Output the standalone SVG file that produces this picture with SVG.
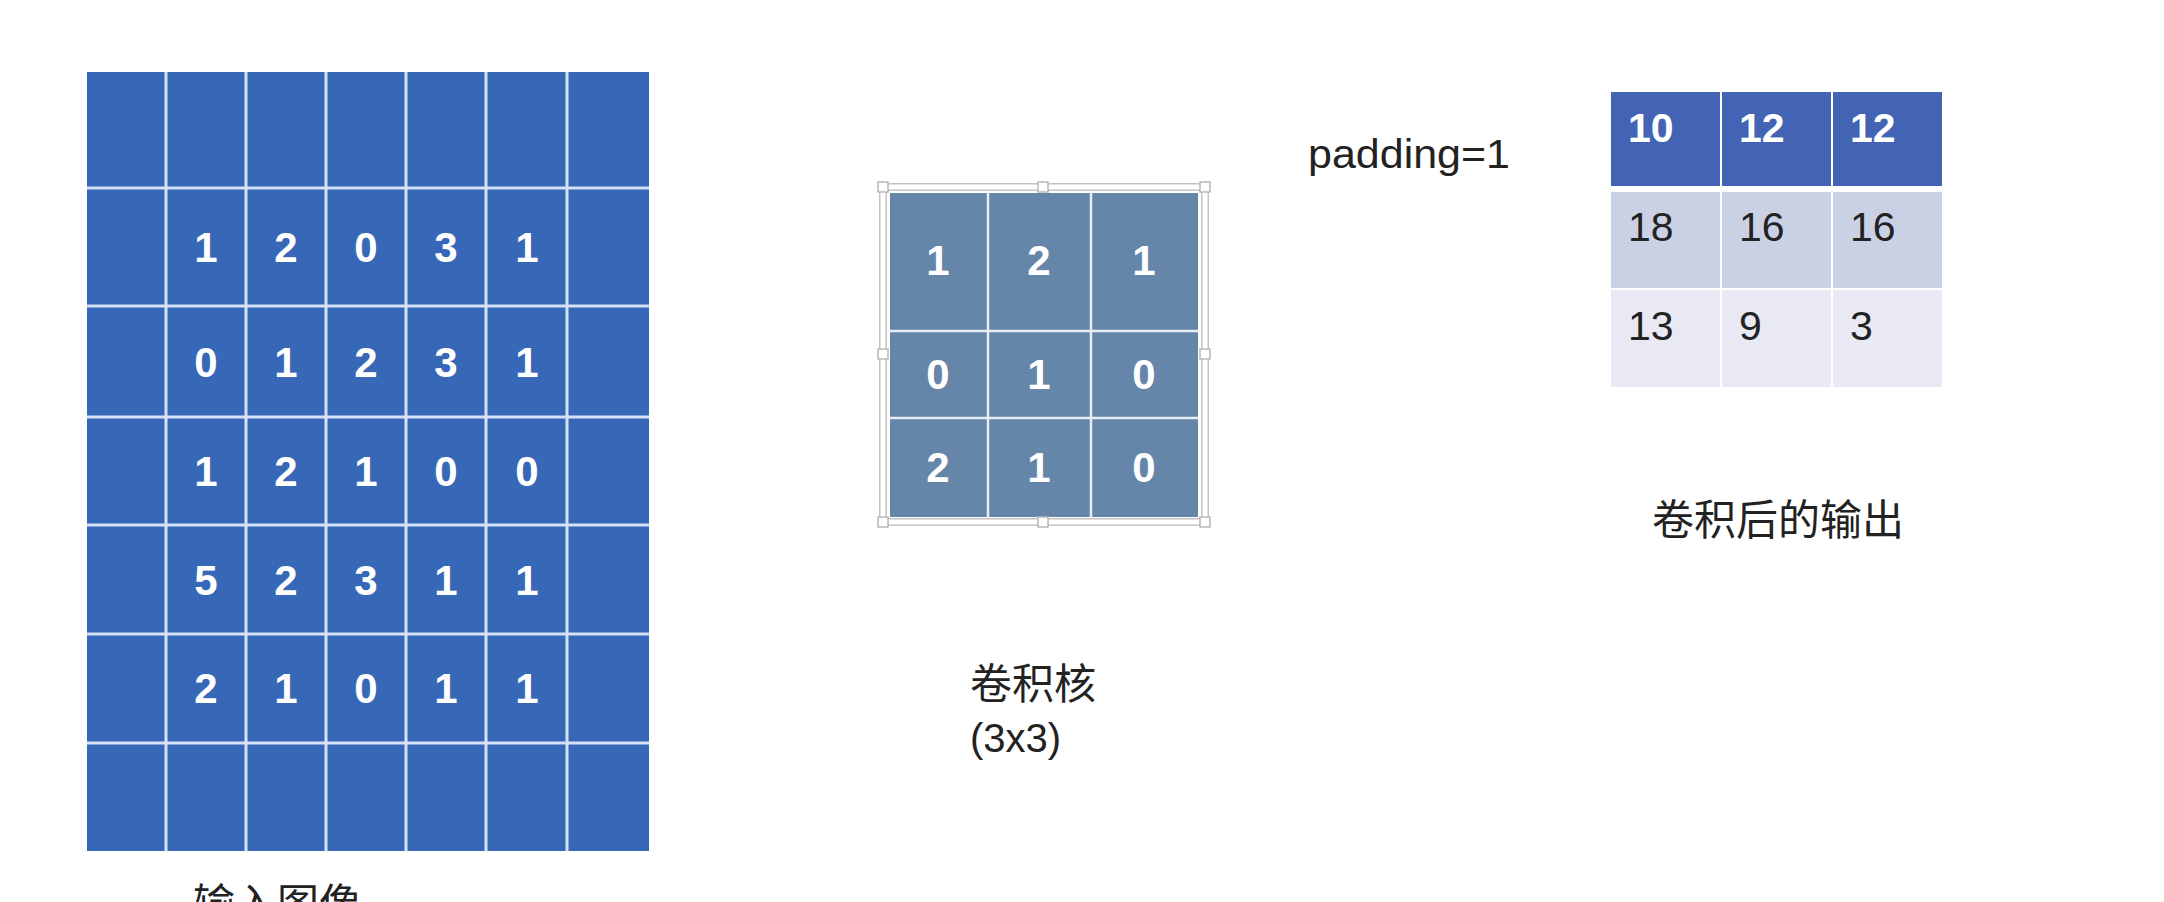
<svg xmlns="http://www.w3.org/2000/svg" width="2164" height="902" viewBox="0 0 2164 902">
<style>
.bg{fill:#ffffff}
.in{fill:#3768b8}
.gl{stroke:#d6e2f4;stroke-width:3;fill:none}
.kc{fill:#6686a9}
.kl{stroke:#e4ecf5;stroke-width:2.5;fill:none}
.num{font-family:"Liberation Sans",Arial,sans-serif;font-weight:bold;font-size:42px;fill:#ffffff;text-anchor:middle}
.onum{font-family:"Liberation Sans",Arial,sans-serif;font-size:41px;fill:#222222}
.ohead{font-family:"Liberation Sans",Arial,sans-serif;font-weight:bold;font-size:41px;fill:#ffffff}
.cjk{font-family:"Liberation Sans","Noto Sans CJK SC",sans-serif;font-size:42px;fill:#222222}
.lat{font-family:"Liberation Sans",Arial,sans-serif;font-size:40px;fill:#222222}
.h{fill:#ffffff;stroke:#b8b8b8;stroke-width:1.5}
</style>
<rect class="bg" x="0" y="0" width="2164" height="902"/>

<g id="input-image">
  <rect class="in" x="87" y="72" width="562" height="779"/>
  <path class="gl" d="M166 72V851M246 72V851M326 72V851M406 72V851M486 72V851M567 72V851M87 188H649M87 306H649M87 417H649M87 525H649M87 634H649M87 743H649"/>
  <g class="num">
    <text x="206" y="262">1</text><text x="286" y="262">2</text><text x="366" y="262">0</text><text x="446" y="262">3</text><text x="527" y="262">1</text>
    <text x="206" y="377">0</text><text x="286" y="377">1</text><text x="366" y="377">2</text><text x="446" y="377">3</text><text x="527" y="377">1</text>
    <text x="206" y="486">1</text><text x="286" y="486">2</text><text x="366" y="486">1</text><text x="446" y="486">0</text><text x="527" y="486">0</text>
    <text x="206" y="595">5</text><text x="286" y="595">2</text><text x="366" y="595">3</text><text x="446" y="595">1</text><text x="527" y="595">1</text>
    <text x="206" y="703">2</text><text x="286" y="703">1</text><text x="366" y="703">0</text><text x="446" y="703">1</text><text x="527" y="703">1</text>
  </g>
  <text class="cjk" x="193" y="919">输入图像</text>
</g>

<g id="kernel">
  <rect x="883" y="187" width="322" height="335" fill="none" stroke="#c4c4c4" stroke-width="8"/>
  <rect x="883" y="187" width="322" height="335" fill="none" stroke="#ffffff" stroke-width="5"/>
  <rect class="kc" x="890" y="193" width="308" height="324"/>
  <path class="kl" d="M988 193V517M1091 193V517M890 331H1198M890 418H1198"/>
  <g class="num">
    <text x="938" y="275">1</text><text x="1039" y="275">2</text><text x="1144" y="275">1</text>
    <text x="938" y="389">0</text><text x="1039" y="389">1</text><text x="1144" y="389">0</text>
    <text x="938" y="482">2</text><text x="1039" y="482">1</text><text x="1144" y="482">0</text>
  </g>
  <g>
    <rect class="h" x="878" y="182" width="10" height="10"/>
    <rect class="h" x="1038" y="182" width="10" height="10"/>
    <rect class="h" x="1200" y="182" width="10" height="10"/>
    <rect class="h" x="878" y="349" width="10" height="10"/>
    <rect class="h" x="1200" y="349" width="10" height="10"/>
    <rect class="h" x="878" y="517" width="10" height="10"/>
    <rect class="h" x="1038" y="517" width="10" height="10"/>
    <rect class="h" x="1200" y="517" width="10" height="10"/>
  </g>
  <text class="cjk" x="970" y="699">卷积核</text>
  <text class="lat" x="970" y="752">(3x3)</text>
</g>

<g id="padding-label">
  <text class="lat" x="1308" y="168" textLength="202" lengthAdjust="spacingAndGlyphs">padding=1</text>
</g>

<g id="output">
  <rect x="1611" y="92" width="109" height="94" fill="#4364b4"/>
  <rect x="1722" y="92" width="109" height="94" fill="#4364b4"/>
  <rect x="1833" y="92" width="109" height="94" fill="#4364b4"/>
  <rect x="1611" y="192" width="109" height="96" fill="#cbd1e5"/>
  <rect x="1722" y="192" width="109" height="96" fill="#cbd1e5"/>
  <rect x="1833" y="192" width="109" height="96" fill="#cbd1e5"/>
  <rect x="1611" y="290" width="109" height="97" fill="#e8e9f3"/>
  <rect x="1722" y="290" width="109" height="97" fill="#e8e9f3"/>
  <rect x="1833" y="290" width="109" height="97" fill="#e8e9f3"/>
  <text class="ohead" x="1628" y="142">10</text>
  <text class="ohead" x="1739" y="142">12</text>
  <text class="ohead" x="1850" y="142">12</text>
  <text class="onum" x="1628" y="241">18</text>
  <text class="onum" x="1739" y="241">16</text>
  <text class="onum" x="1850" y="241">16</text>
  <text class="onum" x="1628" y="340">13</text>
  <text class="onum" x="1739" y="340">9</text>
  <text class="onum" x="1850" y="340">3</text>
  <text class="cjk" x="1652" y="535">卷积后的输出</text>
</g>

<g id="connectors"></g>
</svg>
